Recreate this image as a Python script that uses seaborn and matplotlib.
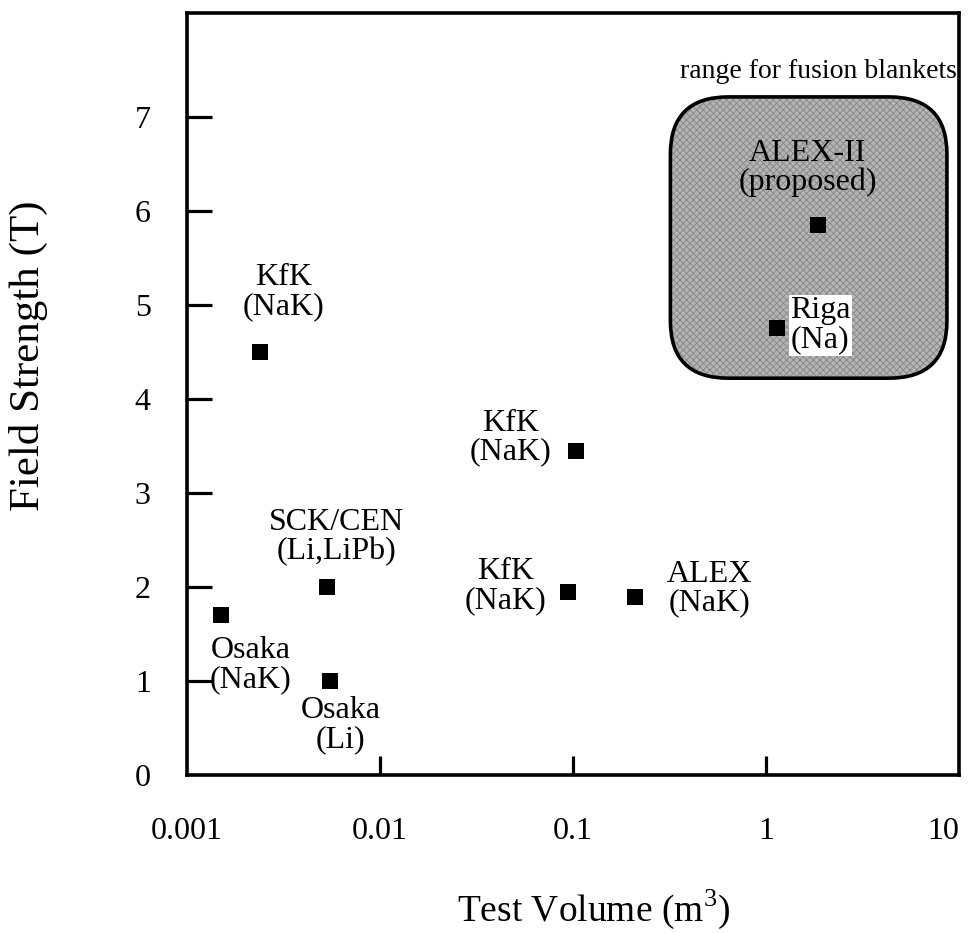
import matplotlib
matplotlib.use("Agg")
import matplotlib.pyplot as plt
from matplotlib.patches import FancyBboxPatch
import pandas as pd
import seaborn as sns

# ---- data ----
labels = ["KfK\n(NaK)", "SCK/CEN\n(Li,LiPb)", "Osaka\n(NaK)", "Osaka\n(Li)",
          "KfK\n(NaK)", "KfK\n(NaK)", "ALEX\n(NaK)", "ALEX-II\n(proposed)", "Riga\n(Na)"]
volume = [0.0024, 0.0053, 0.0015, 0.0055, 0.103, 0.094, 0.21, 1.85, 1.14]
field = [4.5, 2.0, 1.7, 1.0, 3.45, 1.95, 1.9, 5.85, 4.75]
x_ticks = [0.001, 0.01, 0.1, 1, 10]
x_ticklabels = ["0.001", "0.01", "0.1", "1", "10"]
y_ticks = [0, 1, 2, 3, 4, 5, 6, 7]

# label offsets (pixels) relative to each point
label_dx = [23, 10, 30, 11, -65, -62, 74, -10, 43]
label_dy = [60, 50, -50, -44, 13, 6, 8, 57, 3]

df = pd.DataFrame({"volume": volume, "field": field, "label": labels})

sns.set_style("white")
plt.rcParams["font.family"] = ["Liberation Serif", "DejaVu Serif"]
plt.rcParams["mathtext.fontset"] = "custom"
plt.rcParams["mathtext.rm"] = "Liberation Serif"
plt.rcParams["text.color"] = "black"
plt.rcParams["axes.labelcolor"] = "black"
plt.rcParams["hatch.linewidth"] = 0.6

fig = plt.figure(figsize=(9.68, 9.33), dpi=100)
ax = fig.add_axes([0.193, 0.169, 0.798, 0.817])

# shaded "range for fusion blankets" region (axes fraction)
box_kw = dict(boxstyle="round,pad=0,rounding_size=0.075", transform=ax.transAxes)
ax.add_patch(FancyBboxPatch((0.626, 0.521), 0.358, 0.369, facecolor="#b4b4b4",
                            edgecolor="#858585", hatch="xxxxx", linewidth=0,
                            zorder=1, **box_kw))
ax.add_patch(FancyBboxPatch((0.626, 0.521), 0.358, 0.369, facecolor="none",
                            edgecolor="black", linewidth=2.6, zorder=2, **box_kw))

sns.scatterplot(data=df, x="volume", y="field", marker="s", s=140,
                color="black", linewidth=0, ax=ax, zorder=3, legend=False)

ax.set_xscale("log")
ax.set_xlim(0.001, 10)
ax.set_ylim(0, 8.1)

ax.set_xticks(x_ticks)
ax.set_xticklabels(x_ticklabels)
ax.minorticks_off()
ax.set_yticks(y_ticks)

ax.tick_params(axis="both", direction="in", labelsize=23, width=2.3,
               colors="black", bottom=True, left=True)
ax.tick_params(axis="x", length=14, pad=30)
ax.tick_params(axis="y", length=18, pad=26)

# hide tick marks that coincide with spines
for t in ax.xaxis.get_major_ticks():
    if t.get_loc() in (0.001, 10):
        t.tick1line.set_visible(False)
for t in ax.yaxis.get_major_ticks():
    if t.get_loc() == 0:
        t.tick1line.set_visible(False)
ax.get_xticklabels()[-1].set_horizontalalignment("right")

for sp in ax.spines.values():
    sp.set_visible(True)
    sp.set_linewidth(2.6)
    sp.set_color("black")

ax.set_xlabel("Test Volume (m$^3$)", fontsize=27)
ax.xaxis.set_label_coords(0.527, -0.147)
ax.set_ylabel("Field Strength (T)", fontsize=31)
ax.yaxis.set_label_coords(-0.180, 0.551)

for i, row in df.iterrows():
    kw = {}
    if row["label"].startswith("Riga"):
        kw["bbox"] = dict(facecolor="white", edgecolor="none", pad=1)
    ax.annotate(row["label"], (row["volume"], row["field"]),
                xytext=(label_dx[i], label_dy[i]), textcoords="offset pixels",
                ha="center", va="center", fontsize=23, linespacing=1.0,
                zorder=4, **kw)

fig.text(0.846, 0.923, "range for fusion blankets",
         ha="center", va="center", fontsize=20)

fig.savefig("out.png", dpi=100)
